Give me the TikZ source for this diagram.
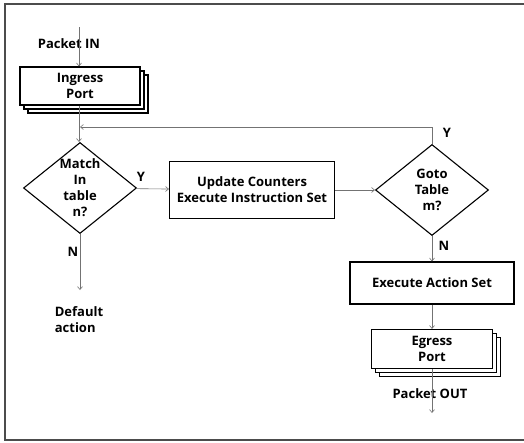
\documentclass[tikz,border=0pt]{standalone}
\usepackage{fontspec}
\setmainfont{Open Sans}
\usetikzlibrary{shapes.geometric,shadows,arrows.meta}

\tikzset{
    box/.style = {draw, line width=1.1pt, fill=white, align=center, inner sep=0pt},
    portbox/.style = {box, double copy shadow={shadow xshift=4pt, shadow yshift=-4pt}},
    decision/.style = {draw, line width=1.1pt, diamond, inner sep=0pt, minimum width=113pt, minimum height=91pt},
    flow/.style = {draw=black!55, line width=0.6pt, -{Straight Barb[length=3pt, width=5pt]}},
    txt/.style = {align=center, inner sep=0pt}
}

\begin{document}
\begin{tikzpicture}[x=1pt, y=-1pt, font=\fontsize{13}{16}\selectfont\bfseries]
        \useasboundingbox (0,0) rectangle (524,442);
        \draw[black!70, line width=1.2pt] (524,4) -- (5,4) -- (5,440) -- (524,440);

        \draw
            (79,27) coordinate (start)
            (69,44) node (pin) [txt] {Packet IN}
            (80,86) node (ingress) [portbox, minimum width=120pt, minimum height=38pt] {Ingress\\Port}
            (80,188) node (match) [decision, label={[txt]center:Match\\In\\table\\n?}] {}
            (252,190) node (update) [box, minimum width=165pt, minimum height=57pt] {Update Counters\\Execute Instruction Set}
            (432,190) node (goto) [decision, label={[txt]center:Goto\\Table\\m?}] {}
            (432,283) node (action) [box, minimum width=164pt, minimum height=42pt] {Execute Action Set}
            (432,349) node (egress) [portbox, minimum width=121pt, minimum height=39pt] {Egress\\Port}
            (79,320) node (default) [txt, align=left] {Default\\action}
            (430,394) node (pout) [txt] {Packet OUT}
            (80,127) coordinate (join)
            (432,127) coordinate (up)
            (80,290) coordinate (dend)
            (432,413) coordinate (out)
            (141,177) node (y1) [txt] {Y}
            (447,133) node (y2) [txt] {Y}
            (73,252) node (n1) [txt] {N}
            (444,246) node (n2) [txt] {N}
        ;

        \draw[flow] (start) -- (ingress.north -| start);
        \draw[flow] (ingress.south -| start) -- (match.north -| start);
        \draw[flow] (match) -- (update);
        \draw[flow] (update.east |- goto) -- (goto);
        \draw[flow] (goto.north) -- (up) -- (join);
        \draw[flow] (match.south) -- (dend);
        \draw[flow] (goto.south) -- (action.north);
        \draw[flow] (action.south) -- (egress.north);
        \draw[flow] (egress.south) -- (out);
\end{tikzpicture}
\end{document}
